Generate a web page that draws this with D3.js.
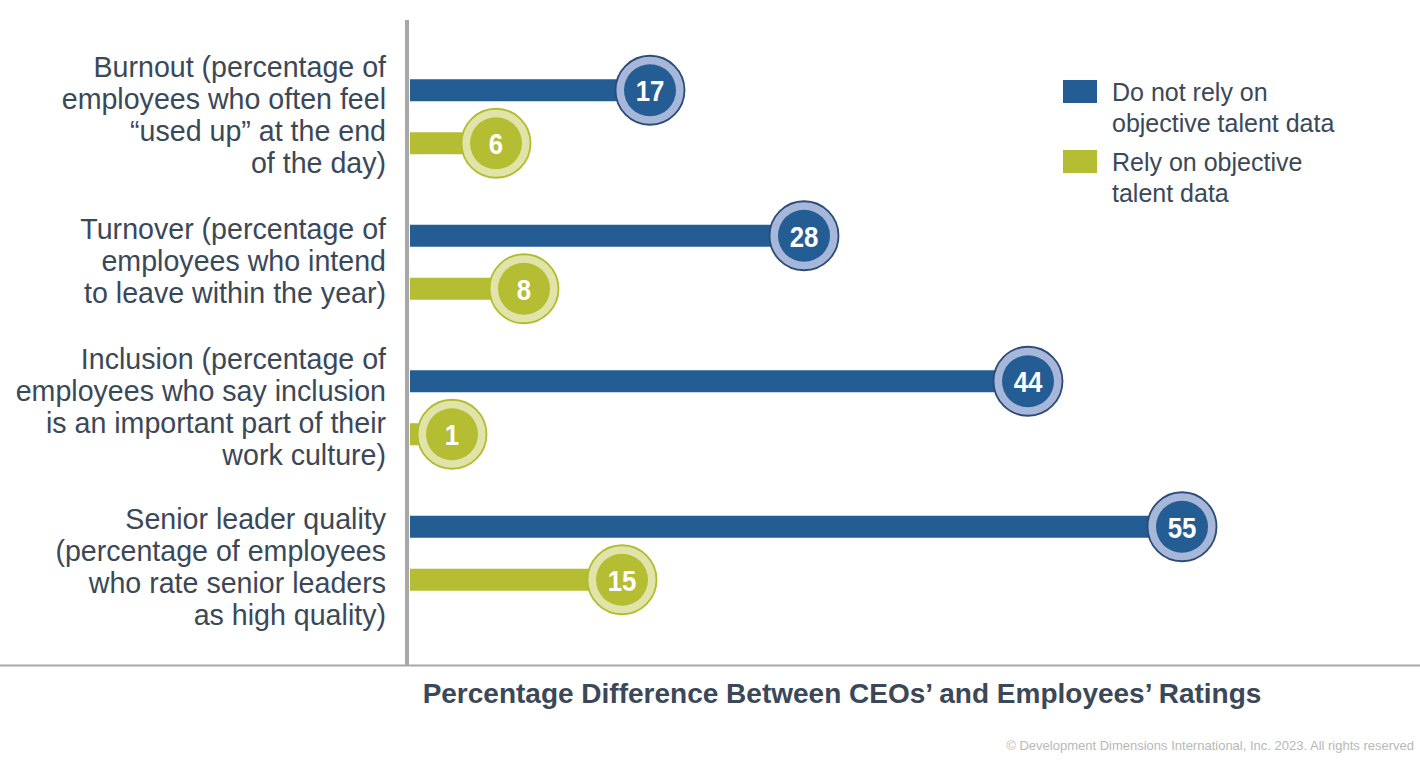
<!DOCTYPE html>
<html><head><meta charset="utf-8">
<script src="https://cdn.jsdelivr.net/npm/d3@7"></script>
<style>body{margin:0;background:#fff}svg{display:block}</style>
</head><body>
<svg id="chart" width="1420" height="764"></svg>
<script>
const categories = ["Burnout", "Turnover", "Inclusion", "Senior leader quality"];
const categoryLabels = [
  ["Burnout (percentage of", "employees who often feel", "\u201cused up\u201d at the end", "of the day)"],
  ["Turnover (percentage of", "employees who intend", "to leave within the year)"],
  ["Inclusion (percentage of", "employees who say inclusion", "is an important part of their", "work culture)"],
  ["Senior leader quality", "(percentage of employees", "who rate senior leaders", "as high quality)"]
];
const seriesNames = ["Do not rely on objective talent data", "Rely on objective talent data"];
const legendLabels = [["Do not rely on", "objective talent data"], ["Rely on objective", "talent data"]];
const doNotRely = [17, 28, 44, 55];
const rely = [6, 8, 1, 15];
const title = "Percentage Difference Between CEOs\u2019 and Employees\u2019 Ratings";
const copyright = "\u00a9 Development Dimensions International, Inc. 2023. All rights reserved";

const colors = {
  bar: ["#235d94", "#b5bd33"],
  ring: ["#a7b7da", "#e0e4a8"],
  edge: ["#2b4a78", "#b3bb2e"]
};
const textColor = "#3b4857";

const svg = d3.select("#chart");
const axisX = 410;
const x = d3.scaleLinear().domain([0, 55]).range([412, 412 + 14 * 55]);
const y0 = d3.scaleBand().domain(categories).range([44, 626]);

const rows = [];
categories.forEach((c, i) => {
  [doNotRely[i], rely[i]].forEach((v, s) => rows.push({cat: c, s, v}));
});
const cy = d => y0(d.cat) + y0.bandwidth() / 2 + (d.s === 0 ? -26.5 : 26.5);
const cx = d => Math.max(x(d.v), axisX + 42);

// bars
svg.append("g").selectAll("rect").data(rows).join("rect")
  .attr("x", axisX).attr("y", d => cy(d) - 11)
  .attr("width", d => cx(d) - axisX).attr("height", 22)
  .attr("fill", d => colors.bar[d.s]);

// circles
const g = svg.append("g").selectAll("g").data(rows).join("g")
  .attr("transform", d => `translate(${cx(d)},${cy(d)})`);
g.append("circle").attr("r", 34.5).attr("fill", d => colors.ring[d.s])
  .attr("stroke", d => colors.edge[d.s]).attr("stroke-width", 1.8);
g.append("circle").attr("r", 26).attr("fill", d => colors.bar[d.s]);
g.append("text").text(d => d.v)
  .attr("transform", "scale(0.86,1)")
  .attr("text-anchor", "middle").attr("dy", "0.36em")
  .attr("fill", "#fff").attr("font-family", "'Liberation Sans Narrow', 'Liberation Sans', Arial, sans-serif")
  .attr("font-weight", "bold").attr("font-size", 30);

// axes lines
svg.append("line").attr("x1", 0).attr("x2", 1420).attr("y1", 665.5).attr("y2", 665.5)
  .attr("stroke", "#a8a8a8").attr("stroke-width", 2);
svg.append("line").attr("x1", 407).attr("x2", 407).attr("y1", 20).attr("y2", 666)
  .attr("stroke", "#a8a8a8").attr("stroke-width", 4);

// category labels
const lineH = 32;
const lab = svg.append("g").selectAll("text").data(categories).join("text")
  .attr("text-anchor", "end").attr("fill", textColor)
  .attr("font-family", "'Liberation Sans', Arial, sans-serif").attr("font-size", 28.6);
lab.each(function(c, i) {
  const lines = categoryLabels[i];
  const center = y0(c) + y0.bandwidth() / 2 + (i === 3 ? 14 : (i === 0 ? -2 : -1));
  const top = center - (lines.length - 1) * lineH / 2;
  d3.select(this).selectAll("tspan").data(lines).join("tspan")
    .attr("x", 386).attr("y", (l, k) => top + k * lineH).attr("dy", "0.35em").text(l => l);
});

// legend
const leg = svg.append("g").selectAll("g").data(seriesNames).join("g")
  .attr("transform", (d, i) => `translate(1063,${80 + i * 70})`);
leg.append("rect").attr("width", 34).attr("height", 23).attr("fill", (d, i) => colors.bar[i]);
leg.append("text").attr("fill", textColor)
  .attr("font-family", "'Liberation Sans', Arial, sans-serif").attr("font-size", 25)
  .selectAll("tspan").data((d, i) => legendLabels[i]).join("tspan")
  .attr("x", 49).attr("y", (l, k) => 12 + k * 31).attr("dy", "0.35em").text(l => l);

// title
svg.append("text").attr("x", 842).attr("y", 693).attr("dy", "0.35em")
  .attr("text-anchor", "middle").attr("fill", textColor)
  .attr("font-family", "'Liberation Sans', Arial, sans-serif").attr("font-weight", "bold")
  .attr("font-size", 28).text(title);

svg.append("text").attr("x", 1414).attr("y", 745).attr("dy", "0.35em")
  .attr("text-anchor", "end").attr("fill", "#b8b8b8")
  .attr("font-family", "'Liberation Sans', Arial, sans-serif").attr("font-size", 13)
  .text(copyright);
</script>
</body></html>
